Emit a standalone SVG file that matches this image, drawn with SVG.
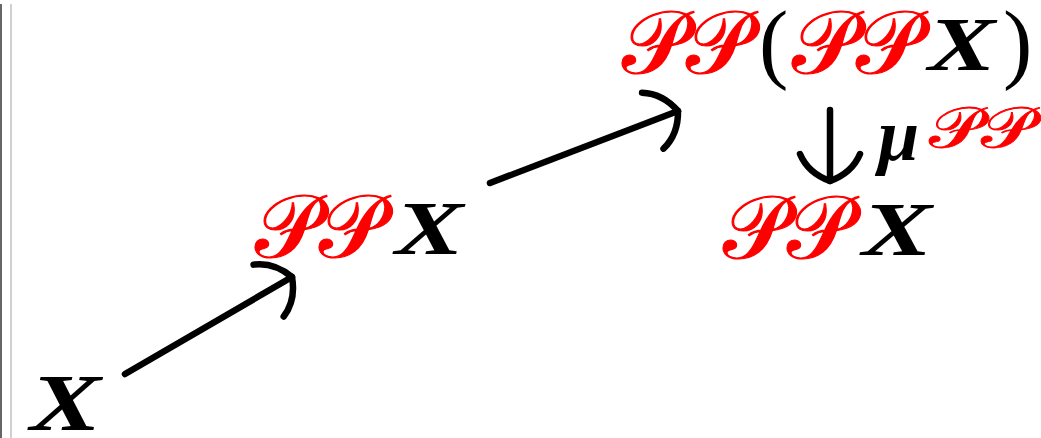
<svg xmlns="http://www.w3.org/2000/svg" width="1041" height="438" viewBox="0 0 1041 438">
<style>
.p{fill:#ff0000;font-family:"DejaVu Serif","Noto Sans",serif;font-size:88px;stroke:#ff0000;stroke-width:1.2}
.ps{fill:#ff0000;font-family:"DejaVu Serif","Noto Sans",serif;font-size:56px;stroke:#ff0000;stroke-width:0.8}
.x{fill:#000;font-family:"Liberation Serif",serif;font-weight:bold;font-style:italic;font-size:76px}
.par{fill:#000;font-family:"Liberation Serif",serif;font-size:88px}
.c{fill:none;stroke:#000;stroke-width:6.5;stroke-linecap:round}
</style>
<defs>
<marker id="h" markerUnits="userSpaceOnUse" orient="auto" markerWidth="80" markerHeight="80" refX="0" refY="0" viewBox="-40 -40 80 80">
<path d="M-27,-30 Q-8,-22 0,0 Q-8,22 -27,30" fill="none" stroke="#000" stroke-width="6.5" stroke-linecap="round" stroke-linejoin="round"/>
</marker>
</defs>
<rect width="1041" height="438" fill="#fff"/>
<line x1="1" y1="4" x2="1" y2="438" stroke="#666" stroke-width="2"/>
<line x1="11" y1="4" x2="11" y2="438" stroke="#d0d0d0" stroke-width="2"/>
<g id="connectors">
<line class="c" x1="125" y1="374" x2="292" y2="277" marker-end="url(#h)"/>
<line class="c" x1="490" y1="183" x2="678" y2="111" marker-end="url(#h)"/>
<line class="c" x1="830" y1="110" x2="830" y2="181" marker-end="url(#h)"/>
</g>
<g id="n-x"><text class="x" transform="translate(30,430) scale(1.33,1)" style="font-size:80px">X</text></g>
<g id="n-ppx">
<text class="p" x="255" y="257" textLength="128" lengthAdjust="spacingAndGlyphs">𝒫𝒫</text>
<text class="x" transform="translate(395,254) scale(1.35,1)">X</text>
</g>
<g id="n-pppx">
<text class="p" x="622" y="73" textLength="128" lengthAdjust="spacingAndGlyphs">𝒫𝒫</text>
<text class="par" x="759" y="72">(</text>
<text class="p" x="792" y="73" textLength="128" lengthAdjust="spacingAndGlyphs">𝒫𝒫</text>
<text class="x" transform="translate(928,70) scale(1.33,1)">X</text>
<text class="par" x="1003" y="72">)</text>
</g>
<g id="n-ppx2">
<text class="p" x="723" y="258" textLength="128" lengthAdjust="spacingAndGlyphs">𝒫𝒫</text>
<text class="x" transform="translate(862,255) scale(1.38,1)">X</text>
</g>
<g id="label-mu">
<text class="x" x="878" y="160" style="font-size:74px">μ</text>
<text class="ps" x="929" y="147" textLength="104" lengthAdjust="spacingAndGlyphs">𝒫𝒫</text>
</g>
</svg>
